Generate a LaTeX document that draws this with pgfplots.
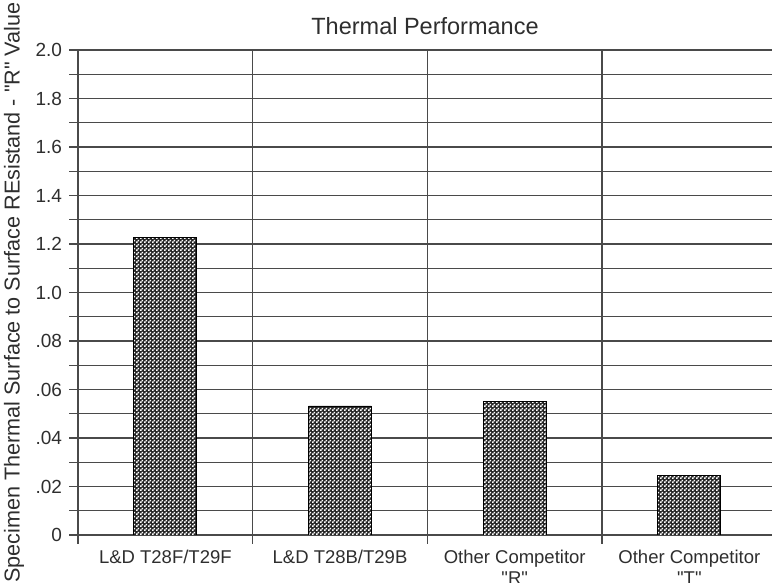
\documentclass[border=0pt]{standalone}
\usepackage{fontspec}
\setmainfont{Liberation Sans}
\usepackage{pgfplots}
\pgfplotsset{compat=1.18}
\usetikzlibrary{patterns}
\definecolor{txt}{HTML}{2E2E2E}
\definecolor{grd}{HTML}{4A4A4A}
\newcommand\dq{\XeTeXglyph\XeTeXcharglyph"22\relax}
\pgfdeclarepatternformonly{wdots}{\pgfpointorigin}{\pgfqpoint{4bp}{4bp}}{\pgfqpoint{4bp}{4bp}}{%
  \pgfpathrectangle{\pgfqpoint{0.1bp}{0.1bp}}{\pgfqpoint{1.9bp}{1.9bp}}%
  \pgfpathrectangle{\pgfqpoint{2.1bp}{2.1bp}}{\pgfqpoint{1.9bp}{1.9bp}}%
  \pgfusepath{fill}}
\begin{document}
\begin{tikzpicture}
\path[use as bounding box] (-78bp,-48bp) rectangle (694bp,535bp);
\begin{axis}[
  scale only axis,
  width=694bp, height=485bp,
  at={(0,0)}, anchor=south west,
  xmin=-0.5, xmax=3.473,
  ymin=0, ymax=2.0,
  axis line style={draw=none},
  xtick={-0.5,0.5,1.5,2.5},
  xticklabels={},
  xtick pos=bottom, ytick pos=left,
  tick align=outside,
  major tick length=8.5bp,
  minor tick length=8.5bp,
  xmajorgrids, ymajorgrids, yminorgrids,
  ytick={0,0.2,...,2.0},
  yticklabels={0,.02,.04,.06,.08,1.0,1.2,1.4,1.6,1.8,2.0},
  minor ytick={0.1,0.3,...,1.9},
  major grid style={grd, line width=1.1bp},
  minor grid style={grd, line width=1.1bp},
  every tick/.style={grd, line width=1.1bp},
  extra x ticks={0,1,2,3},
  extra x tick labels={L\&D T28F/T29F, L\&D T28B/T29B, {Other Competitor\\\dq R\dq}, {Other Competitor\\\dq T\dq}},
  extra x tick style={grid=none, major tick length=0pt, tick style={draw=none}},
  xticklabel style={align=center, font=\fontsize{18.5bp}{21bp}\selectfont, text=txt, yshift=-12bp},
  yticklabel style={font=\fontsize{19bp}{20bp}\selectfont, text=txt, xshift=-4bp},
  title={Thermal Performance},
  title style={at={(axis description cs:0.5,1)}, anchor=base, yshift=10bp, font=\fontsize{23.5bp}{25bp}\selectfont, text=txt},
  ylabel={Specimen Thermal Surface to Surface REsistand - \dq R\dq\ Value},
  ylabel style={at={(axis description cs:-0.0922,0.5)}, anchor=center, font=\fontsize{21.6bp}{22bp}\selectfont, text=txt},
]
\addplot[ybar, bar width=0.36, bar shift=0pt, draw=none, fill=black!85]
  coordinates {(0,1.228) (1,0.532) (2,0.551) (3,0.246)};
\addplot[ybar, bar width=0.36, bar shift=0pt, draw=black, line width=0.9bp, pattern=wdots, pattern color=white]
  coordinates {(0,1.228) (1,0.532) (2,0.551) (3,0.246)};
\end{axis}
\end{tikzpicture}
\end{document}
